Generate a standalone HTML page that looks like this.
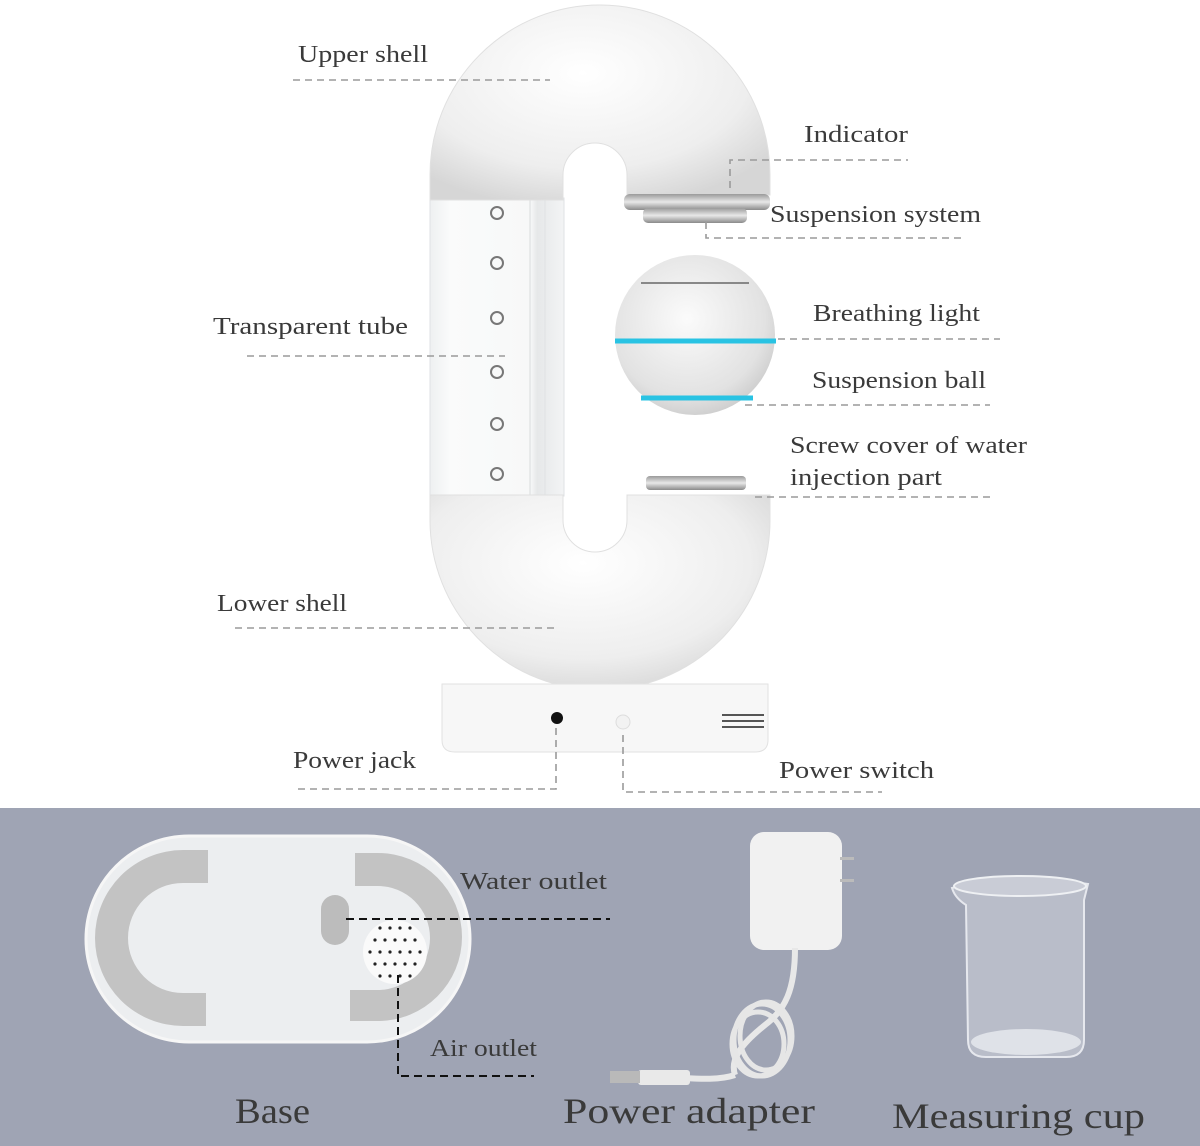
<!DOCTYPE html>
<html><head><meta charset="utf-8"><style>
html,body{margin:0;padding:0;background:#fff}
svg{display:block}
text{font-family:"Liberation Serif",serif;fill:#3a3a3a}
</style></head><body>
<svg width="1200" height="1146" viewBox="0 0 1200 1146" xmlns="http://www.w3.org/2000/svg">
<defs>
<radialGradient id="sh" cx="0.45" cy="0.35" r="0.7"><stop offset="0" stop-color="#ffffff"/><stop offset="0.7" stop-color="#eeeeee"/><stop offset="1" stop-color="#d6d6d6"/></radialGradient>
<radialGradient id="ball" cx="0.45" cy="0.4" r="0.65"><stop offset="0" stop-color="#fbfbfb"/><stop offset="0.75" stop-color="#e2e2e2"/><stop offset="1" stop-color="#c9c9c9"/></radialGradient>
<linearGradient id="met" x1="0" y1="0" x2="0" y2="1"><stop offset="0" stop-color="#9a9a9a"/><stop offset="0.5" stop-color="#e8e8e8"/><stop offset="1" stop-color="#8a8a8a"/></linearGradient>
<linearGradient id="tube" x1="0" y1="0" x2="1" y2="0"><stop offset="0" stop-color="#eef0f1"/><stop offset="0.15" stop-color="#fafbfb"/><stop offset="0.75" stop-color="#f7f8f8"/><stop offset="0.8" stop-color="#e6e8e9"/><stop offset="1" stop-color="#f3f4f5"/></linearGradient>
</defs>
<rect x="0" y="808" width="1200" height="338" fill="#9fa4b4"/>

<!-- tube -->
<rect x="430" y="198" width="134" height="298" fill="url(#tube)" stroke="#dfe2e4"/>
<line x1="530" y1="200" x2="530" y2="495" stroke="#d8dbdd"/>
<line x1="545" y1="200" x2="545" y2="495" stroke="#e0e2e4"/>
<g fill="none" stroke="#777" stroke-width="2">
<circle cx="497" cy="213" r="6"/><circle cx="497" cy="263" r="6"/><circle cx="497" cy="318" r="6"/><circle cx="497" cy="372" r="6"/><circle cx="497" cy="424" r="6"/><circle cx="497" cy="474" r="6"/>
</g>
<!-- upper shell -->
<path d="M430,200 L430,175 A170,170 0 0 1 770,175 L770,195 L627,195 L627,175 A32,32 0 0 0 563,175 L563,200 Z" fill="url(#sh)" stroke="#e0e0e0"/>
<rect x="624" y="194" width="146" height="16" rx="6" fill="url(#met)"/>
<rect x="643" y="208" width="104" height="15" rx="5" fill="url(#met)"/>
<!-- lower shell -->
<rect x="646" y="476" width="100" height="14" rx="4" fill="url(#met)"/>
<path d="M430,495 L430,520 A170,170 0 0 0 770,520 L770,495 L627,495 L627,520 A32,32 0 0 1 563,520 L563,495 Z" fill="url(#sh)" stroke="#e0e0e0"/>
<!-- base -->
<path d="M442,684 L768,684 L768,740 Q768,752 755,752 L455,752 Q442,752 442,740 Z" fill="#f7f7f7" stroke="#e2e2e2"/>
<circle cx="557" cy="718" r="6" fill="#111"/>
<circle cx="623" cy="722" r="7" fill="#f2f2f2" stroke="#ddd"/>
<g fill="#555"><rect x="722" y="714" width="42" height="2"/><rect x="722" y="720" width="42" height="2"/><rect x="722" y="726" width="42" height="2"/></g>
<!-- ball -->
<circle cx="695" cy="335" r="80" fill="url(#ball)"/>
<line x1="641" y1="283" x2="749" y2="283" stroke="#888" stroke-width="2"/>
<line x1="615" y1="341" x2="776" y2="341" stroke="#29c3e3" stroke-width="5"/>
<line x1="641" y1="398" x2="753" y2="398" stroke="#29c3e3" stroke-width="5"/>

<!-- labels top -->
<g font-size="24" lengthAdjust="spacingAndGlyphs">
<text x="298" y="62" textLength="130" lengthAdjust="spacingAndGlyphs">Upper shell</text>
<text x="804" y="142" textLength="104" lengthAdjust="spacingAndGlyphs">Indicator</text>
<text x="770" y="222" textLength="211" lengthAdjust="spacingAndGlyphs">Suspension system</text>
<text x="213" y="334" textLength="195" lengthAdjust="spacingAndGlyphs">Transparent tube</text>
<text x="813" y="321" textLength="167" lengthAdjust="spacingAndGlyphs">Breathing light</text>
<text x="812" y="388" textLength="174" lengthAdjust="spacingAndGlyphs">Suspension ball</text>
<text x="790" y="453" textLength="237" lengthAdjust="spacingAndGlyphs">Screw cover of water</text>
<text x="790" y="485" textLength="152" lengthAdjust="spacingAndGlyphs">injection part</text>
<text x="217" y="611" textLength="130" lengthAdjust="spacingAndGlyphs">Lower shell</text>
<text x="293" y="768" textLength="123" lengthAdjust="spacingAndGlyphs">Power jack</text>
<text x="779" y="778" textLength="155" lengthAdjust="spacingAndGlyphs">Power switch</text>
</g>
<g fill="none" stroke="#9a9a9a" stroke-width="1.6" stroke-dasharray="7,5">
<path d="M293,80 H550"/>
<path d="M730,188 V160 H908"/>
<path d="M706,222 V238 H965"/>
<path d="M247,356 H505"/>
<path d="M778,339 H1000"/>
<path d="M745,405 H990"/>
<path d="M755,497 H990"/>
<path d="M235,628 H556"/>
<path d="M556,728 V789 H298"/>
<path d="M623,735 V792 H882"/>
</g>

<!-- bottom base -->
<rect x="86" y="836" width="384" height="206" rx="103" fill="#eceef0" stroke="#f6f6f6" stroke-width="3"/>
<path d="M208,850 H183 A88,88 0 0 0 183,1026 H206 V993 H183 A55,55 0 0 1 183,883 H208 Z" fill="#c3c3c3"/>
<path d="M355,853 H378 A84,84 0 0 1 378,1021 H350 V990 H378 A52,52 0 0 0 378,886 H355 Z" fill="#c3c3c3"/>
<rect x="321" y="895" width="28" height="50" rx="14" fill="#bcbcbc"/>
<circle cx="395" cy="952" r="32" fill="#fafafa"/>
<g fill="#222">
<circle cx="380" cy="928" r="1.6"/><circle cx="390" cy="928" r="1.6"/><circle cx="400" cy="928" r="1.6"/><circle cx="410" cy="928" r="1.6"/>
<circle cx="375" cy="940" r="1.6"/><circle cx="385" cy="940" r="1.6"/><circle cx="395" cy="940" r="1.6"/><circle cx="405" cy="940" r="1.6"/><circle cx="415" cy="940" r="1.6"/>
<circle cx="370" cy="952" r="1.6"/><circle cx="380" cy="952" r="1.6"/><circle cx="390" cy="952" r="1.6"/><circle cx="400" cy="952" r="1.6"/><circle cx="410" cy="952" r="1.6"/><circle cx="420" cy="952" r="1.6"/>
<circle cx="375" cy="964" r="1.6"/><circle cx="385" cy="964" r="1.6"/><circle cx="395" cy="964" r="1.6"/><circle cx="405" cy="964" r="1.6"/><circle cx="415" cy="964" r="1.6"/>
<circle cx="380" cy="976" r="1.6"/><circle cx="390" cy="976" r="1.6"/><circle cx="400" cy="976" r="1.6"/><circle cx="410" cy="976" r="1.6"/>
</g>
<g fill="none" stroke="#111" stroke-width="2" stroke-dasharray="8,5">
<path d="M346,919 H610"/>
<path d="M398,975 V1076 H534"/>
</g>
<text x="460" y="889" font-size="24" fill="#2f3440" textLength="147" lengthAdjust="spacingAndGlyphs">Water outlet</text>
<text x="430" y="1056" font-size="24" fill="#2f3440" textLength="107" lengthAdjust="spacingAndGlyphs">Air outlet</text>

<!-- adapter -->
<rect x="750" y="832" width="92" height="118" rx="14" fill="#f1f1f1"/>
<rect x="840" y="857" width="14" height="3" fill="#bbb"/><rect x="840" y="879" width="14" height="3" fill="#bbb"/>
<path d="M795,948 C795,990 785,1010 765,1025 C740,1045 730,1060 735,1075" fill="none" stroke="#e8e8e8" stroke-width="6"/>
<g fill="none" stroke="#e6e6e6" stroke-width="5">
<ellipse cx="762" cy="1040" rx="28" ry="36"/><ellipse cx="766" cy="1036" rx="26" ry="34"/><ellipse cx="758" cy="1044" rx="26" ry="32"/>
</g>
<path d="M735,1075 C720,1080 700,1079 685,1078" fill="none" stroke="#e8e8e8" stroke-width="6"/>
<rect x="638" y="1070" width="52" height="15" rx="3" fill="#e9e9e9"/>
<rect x="610" y="1071" width="30" height="12" fill="#b9b9b9"/>

<!-- cup -->
<path d="M952,888 Q1010,872 1088,884 L1084,900 L1084,1040 Q1084,1057 1066,1057 L986,1057 Q968,1057 968,1040 L966,905 Q955,898 952,888 Z" fill="#b9bdc9" stroke="#e6e8ee" stroke-width="2"/>
<ellipse cx="1020" cy="886" rx="66" ry="10" fill="#c9ccd6" stroke="#eef0f3" stroke-width="2"/>
<ellipse cx="1026" cy="1042" rx="55" ry="13" fill="#dfe2e8"/>

<g font-size="36" fill="#353b4b">
<text x="235" y="1123" textLength="75" lengthAdjust="spacingAndGlyphs">Base</text>
<text x="563" y="1123" textLength="252" lengthAdjust="spacingAndGlyphs">Power adapter</text>
<text x="892" y="1128" textLength="253" lengthAdjust="spacingAndGlyphs">Measuring cup</text>
</g>
</svg>
</body></html>
